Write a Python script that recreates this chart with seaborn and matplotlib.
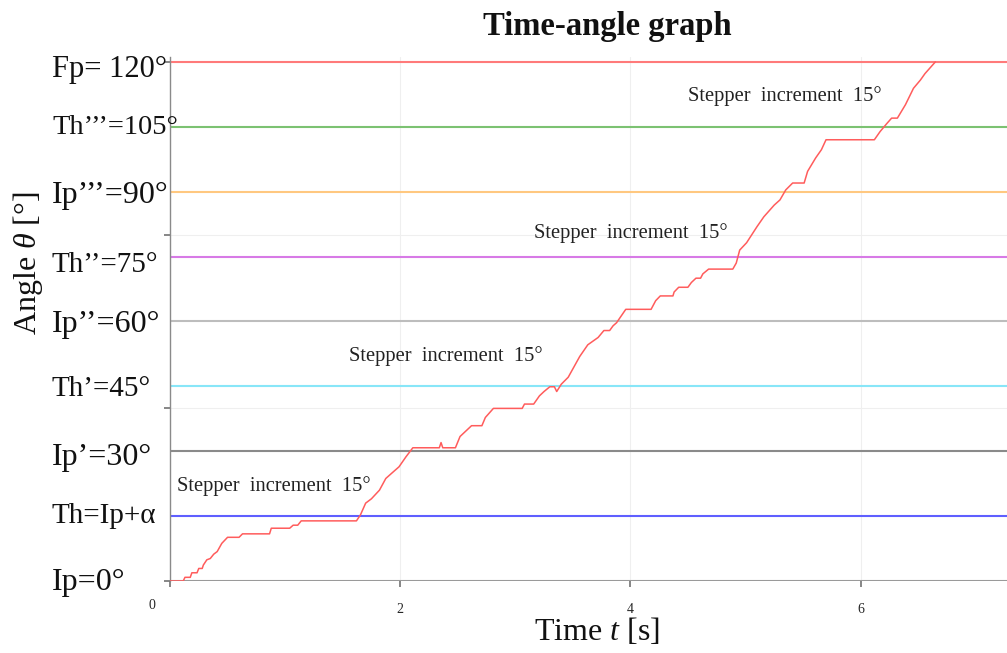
import numpy as np
import pandas as pd
import matplotlib
matplotlib.use("Agg")
import matplotlib.pyplot as plt
import matplotlib.transforms as mtransforms
import seaborn as sns

# ---------------- data ----------------
time_s = [0.00, 0.115, 0.13, 0.176, 0.19, 0.235, 0.25, 0.28, 0.29, 0.32, 0.35, 0.38, 0.41, 0.45, 0.50, 0.60,
          0.63, 0.865, 0.88, 1.04, 1.07, 1.11, 1.14, 1.62, 1.655, 1.70, 1.75, 1.82, 1.875, 1.93,
          1.99, 2.05, 2.11, 2.34, 2.355, 2.37, 2.48, 2.52, 2.58, 2.62, 2.71, 2.74, 2.81, 3.06,
          3.08, 3.16, 3.21, 3.25, 3.30, 3.34, 3.36, 3.40, 3.46, 3.56, 3.63, 3.72, 3.77, 3.82,
          3.85, 3.88, 3.96, 4.18, 4.22, 4.26, 4.37, 4.38, 4.42, 4.50, 4.53, 4.57, 4.61, 4.63,
          4.68, 4.89, 4.92, 4.95, 5.01, 5.10, 5.16, 5.25, 5.30, 5.35, 5.41, 5.51, 5.54, 5.61,
          5.66, 5.70, 6.12, 6.17, 6.23, 6.27, 6.32, 6.39, 6.46, 6.52, 6.56, 6.61, 6.65]
angle_deg = [0.0, 0.0, 0.85, 0.85, 1.9, 1.9, 2.9, 2.9, 3.7, 4.9, 5.2, 6.2, 6.8, 8.7, 10.1, 10.1,
             10.9, 10.9, 12.2, 12.2, 12.9, 12.9, 13.9, 13.9, 15.3, 18.0, 19.0, 21.0, 23.7, 25.0,
             26.4, 28.7, 30.8, 30.8, 32.0, 30.8, 30.8, 33.4, 34.9, 35.9, 35.9, 37.8, 39.9, 39.9,
             40.9, 40.9, 42.8, 43.8, 44.9, 44.9, 43.8, 45.5, 47.1, 51.9, 54.6, 56.3, 57.9, 57.9,
             59.0, 59.7, 62.8, 62.8, 64.8, 65.9, 65.9, 66.8, 67.9, 67.9, 69.0, 70.0, 70.0, 71.0,
             72.1, 72.1, 73.5, 76.5, 78.2, 81.9, 84.2, 86.9, 88.1, 90.4, 92.0, 92.0, 94.7, 97.8,
             99.7, 102.0, 102.0, 103.9, 105.8, 107.0, 107.0, 110.1, 113.9, 115.8, 117.3, 118.8, 120.0]

level_values = [0, 15, 30, 45, 60, 75, 90, 105, 120]
level_labels = ["Ip=0°", "Th=Ip+α", "Ip\u2019=30°", "Th\u2019=45°", "Ip\u2019\u2019=60°",
                "Th\u2019\u2019=75°", "Ip\u2019\u2019\u2019=90°", "Th\u2019\u2019\u2019=105°", "Fp= 120°"]
level_colors = ["#9a9a9a", "#5f5fff", "#8a8a8a", "#88e6f8", "#bdbdbd",
                "#d77ae6", "#ffc880", "#7cc272", "#ff7a7a"]
level_fontsizes = [23, 21, 23, 21, 23, 21, 23, 20.5, 22]
# baseline drop below each line, in pixels
label_drop_px = [9, 7, 14, 10, 11, 15, 11, 7, 15]

annot_x = [0.06, 1.556, 3.165, 4.5]
annot_y = [22.0, 52.0, 80.5, 112.0]
annot_text = "Stepper  increment  15°"

x_ticks = [0, 2, 4, 6]
y_ticks = [0, 40, 80, 120]

df = pd.DataFrame({"time": time_s, "angle": angle_deg})

# ---------------- style ----------------
sns.set_theme(style="white")
plt.rcParams["font.family"] = ["Liberation Serif", "DejaVu Serif"]
plt.rcParams["mathtext.fontset"] = "custom"
plt.rcParams["mathtext.rm"] = "Liberation Serif"
plt.rcParams["mathtext.it"] = "Liberation Serif:italic"

fig = plt.figure(figsize=(10.07, 6.53), dpi=100)
ax = fig.add_axes([170 / 1007, 1 - 581 / 653, 1 - 170 / 1007 + 0.01, (581 - 56.7) / 653])

ax.set_xlim(0, 7.36)
ax.set_ylim(0, 121.2)

ax.grid(True, color="#efefef", lw=0.8)
ax.set_axisbelow(True)

for v, c in zip(level_values, level_colors):
    ax.axhline(v, color=c, lw=1.5, zorder=2)

sns.lineplot(data=df, x="time", y="angle", ax=ax, color="#ff5c5c", lw=1.1,
             estimator=None, sort=False, zorder=3)

ax.set_xlabel("")
ax.set_ylabel("")
ax.set_xticks(x_ticks)
ax.set_xticklabels([str(t) for t in x_ticks], fontsize=10)
ax.set_yticks(y_ticks)
ax.set_yticklabels([])
ax.tick_params(axis="x", bottom=True, length=4, color="#777777", pad=12)
ax.tick_params(axis="y", left=True, length=4, color="#777777")
lab0 = ax.get_xticklabels()[0]
lab0.set_transform(lab0.get_transform() + mtransforms.ScaledTranslation(-18 / 100, 4 / 100, fig.dpi_scale_trans))

for side in ["top", "right", "bottom"]:
    ax.spines[side].set_visible(False)
ax.spines["left"].set_color("#8a8a8a")
ax.spines["left"].set_linewidth(1.0)

# y level labels
trans = mtransforms.blended_transform_factory(fig.transFigure, ax.transData)
for v, lab, fs, d in zip(level_values, level_labels, level_fontsizes, label_drop_px):
    t = trans + mtransforms.ScaledTranslation(0, -d / 100, fig.dpi_scale_trans)
    ax.text(52 / 1007, v, lab, transform=t, ha="left", va="baseline",
            fontsize=fs, color="#111111", clip_on=False)

for xa, ya in zip(annot_x, annot_y):
    ax.text(xa, ya, annot_text, ha="left", va="center", fontsize=14.8, color="#222222")

fig.text(607 / 1007, 1 - 26 / 653, "Time-angle graph", ha="center", va="center",
         fontsize=23.5, fontweight="bold", color="#111111")
fig.text(597 / 1007, 1 - 632 / 653, "Time $t$ [s]", ha="center", va="center",
         fontsize=23, color="#111111")
fig.text(28 / 1007, 1 - 263 / 653, r"Angle $\theta$ [°]", ha="center", va="center",
         rotation=90, fontsize=23, color="#111111")

fig.savefig("out.png", dpi=100)
